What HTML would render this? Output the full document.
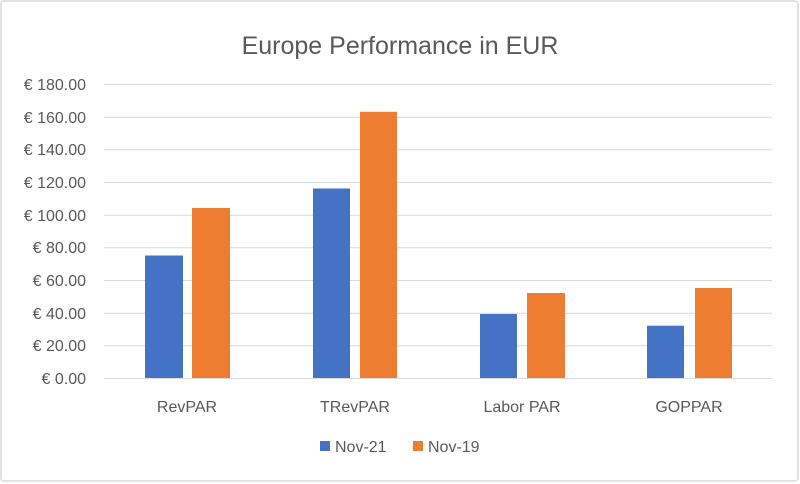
<!DOCTYPE html>
<html><head><meta charset="utf-8"><style>
body{margin:0;background:#fff}
svg{display:block}
text{font-family:"Liberation Sans",sans-serif;fill:#595959}
</style></head><body>
<svg width="800" height="484" viewBox="0 0 800 484">
<rect x="1" y="1" width="797" height="480" rx="3" fill="#fff" stroke="#d9d9d9" stroke-width="1.5"/>
<text x="400" y="54" text-anchor="middle" font-size="25">Europe Performance in EUR</text>
<g stroke="#d9d9d9" stroke-width="1">
<line x1="104" x2="772" y1="84.5" y2="84.5"/>
<line x1="104" x2="772" y1="117.2" y2="117.2"/>
<line x1="104" x2="772" y1="149.8" y2="149.8"/>
<line x1="104" x2="772" y1="182.5" y2="182.5"/>
<line x1="104" x2="772" y1="215.2" y2="215.2"/>
<line x1="104" x2="772" y1="247.8" y2="247.8"/>
<line x1="104" x2="772" y1="280.5" y2="280.5"/>
<line x1="104" x2="772" y1="313.2" y2="313.2"/>
<line x1="104" x2="772" y1="345.8" y2="345.8"/>
</g>
<g font-size="16" text-anchor="end">
<text x="86" y="90">€ 180.00</text>
<text x="86" y="123">€ 160.00</text>
<text x="86" y="155">€ 140.00</text>
<text x="86" y="188">€ 120.00</text>
<text x="86" y="221">€ 100.00</text>
<text x="86" y="253">€ 80.00</text>
<text x="86" y="286">€ 60.00</text>
<text x="86" y="319">€ 40.00</text>
<text x="86" y="351">€ 20.00</text>
<text x="86" y="384">€ 0.00</text>
</g>
<g fill="#4472c4">
<rect x="145" y="255.5" width="38" height="123"/>
<rect x="313" y="188.5" width="37" height="190"/>
<rect x="480" y="314" width="37" height="64"/>
<rect x="647" y="325.7" width="37" height="52.3"/>
</g>
<g fill="#ed7d31">
<rect x="192" y="208" width="38" height="170"/>
<rect x="360" y="111.8" width="37" height="266.2"/>
<rect x="527" y="293" width="38" height="85"/>
<rect x="695" y="288" width="37" height="90"/>
</g>
<line x1="104" x2="772" y1="378.5" y2="378.5" stroke="#d9d9d9" stroke-width="1"/>
<g font-size="16" text-anchor="middle">
<text x="187" y="412">RevPAR</text>
<text x="355" y="412">TRevPAR</text>
<text x="522" y="412">Labor PAR</text>
<text x="689" y="412">GOPPAR</text>
</g>
<rect x="320" y="441" width="10" height="10" fill="#4472c4"/>
<text x="335" y="452" font-size="16">Nov-21</text>
<rect x="413" y="441" width="10" height="10" fill="#ed7d31"/>
<text x="428" y="452" font-size="16">Nov-19</text>
</svg>
</body></html>
